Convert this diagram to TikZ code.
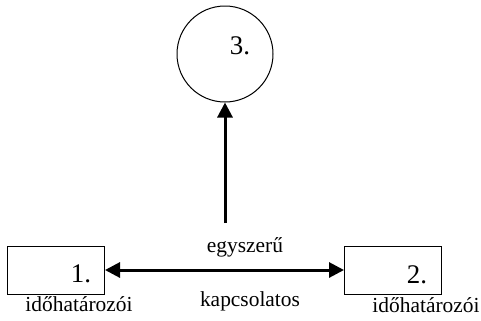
\documentclass[tikz,border=0pt]{standalone}
\usepackage{fontspec}
\setmainfont{Liberation Serif}
\usetikzlibrary{arrows.meta}

\tikzset{
  entity/.style={draw, line width=1bp, minimum width=97bp, minimum height=48bp, inner sep=0pt},
  process/.style={draw, line width=1bp, circle, minimum size=96bp, inner sep=0pt},
  flow/.style={line width=3bp, {Triangle[length=15bp,width=15bp]}-{Triangle[length=15bp,width=15bp]}},
  upflow/.style={line width=3bp, -{Triangle[length=15bp,width=15bp]}},
  numtext/.style={anchor=base, font=\fontsize{27}{30}\selectfont},
  labtext/.style={anchor=base, font=\fontsize{21.5}{24}\selectfont}
}

\begin{document}
\begin{tikzpicture}[x=1bp, y=-1bp]
\useasboundingbox (0,0) rectangle (481,320);

% entities
\node[entity] (ent1) at (56,270) {};
\node[entity] (ent2) at (393,270) {};
\node[numtext] (num1) at (81,282) {1.};
\node[numtext] (num2) at (417,283) {2.};
\node[labtext] (lab1) at (79,311) {időhatározói};
\node[labtext] (lab2) at (426,312) {időhatározói};

% process
\node[process] (proc) at (225,54) {};
\node[numtext] (num3) at (240,54) {3.};

% connectors
\draw[flow] (ent1.east) -- (ent2.west);
\coordinate (foot) at (225,223);
\draw[upflow] (foot) -- (proc.south);

% connector labels
\node[labtext] (simple) at (245,252) {egyszerű};
\node[labtext] (linked) at (250,306) {kapcsolatos};

\end{tikzpicture}
\end{document}
